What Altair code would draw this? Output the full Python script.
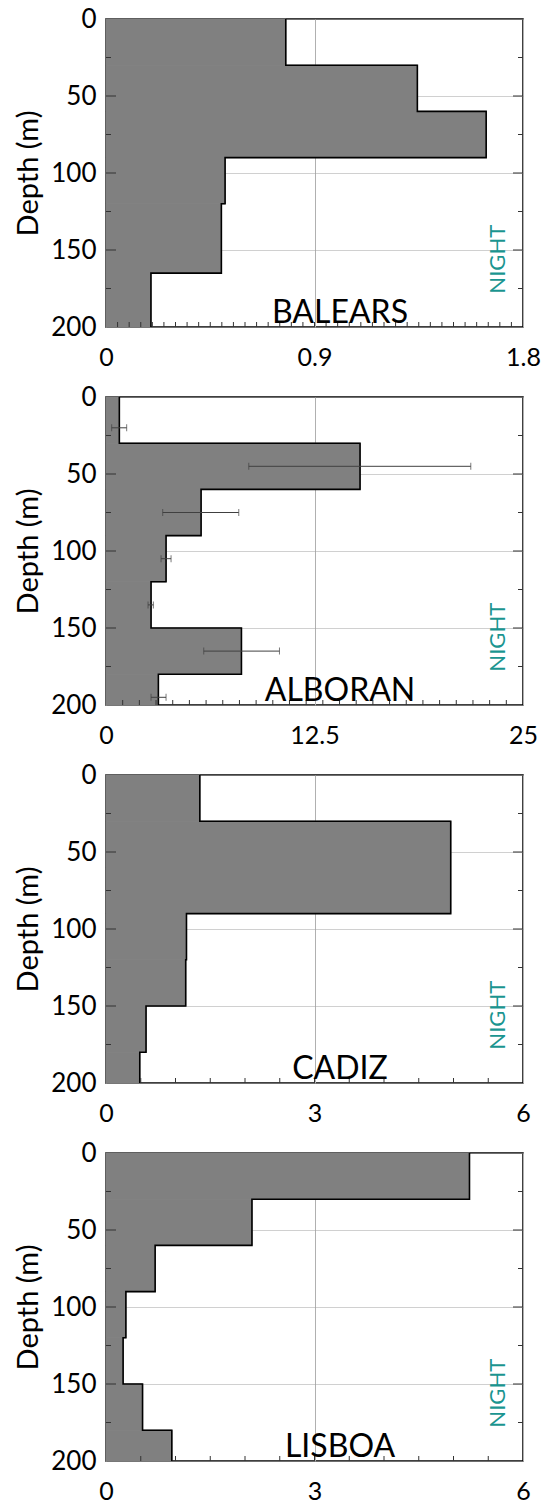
import altair as alt
import pandas as pd
import numpy as np

# ---------------- data ----------------
regions = ["BALEARS", "ALBORAN", "CADIZ", "LISBOA"]
x_max = [1.8, 25, 6, 6]
x_mid = [0.9, 12.5, 3, 3]
minor_step = [0.05, 1.0, 0.5, 0.5]

bal_top = [0, 30, 60, 90, 120, 165]
bal_bot = [30, 60, 90, 120, 165, 200]
bal_val = [0.776, 1.344, 1.641, 0.514, 0.498, 0.194]

alb_top = [0, 30, 60, 90, 120, 150, 180]
alb_bot = [30, 60, 90, 120, 150, 180, 200]
alb_val = [0.80, 15.23, 5.70, 3.60, 2.70, 8.12, 3.14]
alb_err_depth = [20, 45, 75, 105, 135, 165, 195]
alb_err_lo = [0.34, 8.56, 3.40, 3.30, 2.52, 5.86, 2.70]
alb_err_hi = [1.24, 21.87, 7.96, 3.90, 2.84, 10.40, 3.60]

cad_top = [0, 30, 60, 90, 120, 150, 180]
cad_bot = [30, 60, 90, 120, 150, 180, 200]
cad_val = [1.35, 4.96, 4.96, 1.158, 1.147, 0.576, 0.486]

lis_top = [0, 30, 60, 90, 120, 150, 180]
lis_bot = [30, 60, 90, 120, 150, 180, 200]
lis_val = [5.23, 2.10, 0.707, 0.286, 0.246, 0.526, 0.947]

depth_ticks = [0, 50, 100, 150, 200]
minor_depth = [25, 75, 125, 175]
major_depth = [50, 100, 150]

profiles = [
    (bal_top, bal_bot, bal_val),
    (alb_top, alb_bot, alb_val),
    (cad_top, cad_bot, cad_val),
    (lis_top, lis_bot, lis_val),
]

# ---------------- layout / style ----------------
W, H = 417, 308
FONT = "Lato"
FILL = "#808080"
TEAL = "#1a9590"
TICK = "#333333"


def panel(i):
    top, bot, val = profiles[i]
    xs = alt.Scale(domain=[0, x_max[i]], nice=False, zero=True)
    ys = alt.Scale(domain=[0, 200], reverse=True, nice=False)

    bars = pd.DataFrame({"top": top, "bot": bot, "val": val})
    pts = []
    for k in range(len(val)):
        pts.append({"seq": 2 * k, "x": val[k], "d": top[k]})
        pts.append({"seq": 2 * k + 1, "x": val[k], "d": bot[k]})
    outline = pd.DataFrame(pts)

    x_axis = alt.Axis(values=[0, x_mid[i], x_max[i]], format=".3~g", ticks=False,
                      domain=False, grid=True, gridColor="#b0b0b0", gridWidth=1,
                      labelFontSize=25, labelPadding=18, labelFlush=False,
                      labelColor="black", labelFont=FONT, title=None)
    y_axis = alt.Axis(values=depth_ticks, ticks=False, domain=False, grid=True,
                      gridColor="#a0a0a0", gridDash=[1, 1], gridWidth=1,
                      labelFontSize=26, labelPadding=10, labelColor="black",
                      labelFont=FONT, title="Depth (m)", titleFont=FONT,
                      titleFontSize=29, titleFontWeight="normal",
                      titleColor="black", titlePadding=7)

    rect = alt.Chart(bars).mark_rect(fill=FILL, stroke=FILL, strokeWidth=1).encode(
        x=alt.X("val:Q", scale=xs, axis=x_axis),
        x2=alt.X2(datum=0),
        y=alt.Y("top:Q", scale=ys, axis=y_axis),
        y2="bot:Q",
    )
    line = alt.Chart(outline).mark_line(color="black", strokeWidth=1.6).encode(
        x=alt.X("x:Q", scale=xs),
        y=alt.Y("d:Q", scale=ys),
        order="seq:Q",
    )
    layers = [rect, line]

    if i == 1:
        err = pd.DataFrame({"d": alb_err_depth, "lo": alb_err_lo, "hi": alb_err_hi})
        layers.append(alt.Chart(err).mark_rule(color="#404040", strokeWidth=1).encode(
            x=alt.X("lo:Q", scale=xs), x2="hi:Q", y=alt.Y("d:Q", scale=ys)))
        for col in ["lo", "hi"]:
            layers.append(alt.Chart(err).mark_tick(color="#404040", thickness=1, size=7,
                                                   orient="vertical").encode(
                x=alt.X(f"{col}:Q", scale=xs), y=alt.Y("d:Q", scale=ys)))

    # inner ticks
    xt = pd.DataFrame({"t": np.round(np.arange(minor_step[i], x_max[i] - 1e-9, minor_step[i]), 4)})
    layers.append(alt.Chart(xt).mark_rule(color=TICK, strokeWidth=1).encode(
        x=alt.X("t:Q", scale=xs), y=alt.value(H), y2=alt.value(H - 5)))
    mn = pd.DataFrame({"d": minor_depth})
    mj = pd.DataFrame({"d": major_depth})
    for df, ln in [(mn, 5), (mj, 10)]:
        layers.append(alt.Chart(df).mark_rule(color=TICK, strokeWidth=1).encode(
            y=alt.Y("d:Q", scale=ys), x=alt.value(0), x2=alt.value(ln)))
        layers.append(alt.Chart(df).mark_rule(color=TICK, strokeWidth=1).encode(
            y=alt.Y("d:Q", scale=ys), x=alt.value(W), x2=alt.value(W - ln)))

    name = pd.DataFrame({"name": [regions[i]]})
    layers.append(alt.Chart(name).mark_text(font=FONT, fontSize=32, color="black",
                                            align="center", baseline="alphabetic").encode(
        text="name:N", x=alt.value(234), y=alt.value(H - 4)))
    night = pd.DataFrame({"t": ["NIGHT"]})
    layers.append(alt.Chart(night).mark_text(font=FONT, fontSize=22, color=TEAL,
                                             align="center", baseline="middle",
                                             angle=270).encode(
        text="t:N", x=alt.value(W - 25), y=alt.value(0.78 * H)))

    return alt.layer(*layers).properties(width=W, height=H)


chart = alt.vconcat(*[panel(i) for i in range(4)], spacing=70, bounds="flush").properties(
    padding={"left": 14, "top": 5, "right": 0, "bottom": 0},
).configure_view(stroke="black", strokeWidth=1.5)

chart.save("out.html", embed_options={"renderer": "svg", "actions": False})
